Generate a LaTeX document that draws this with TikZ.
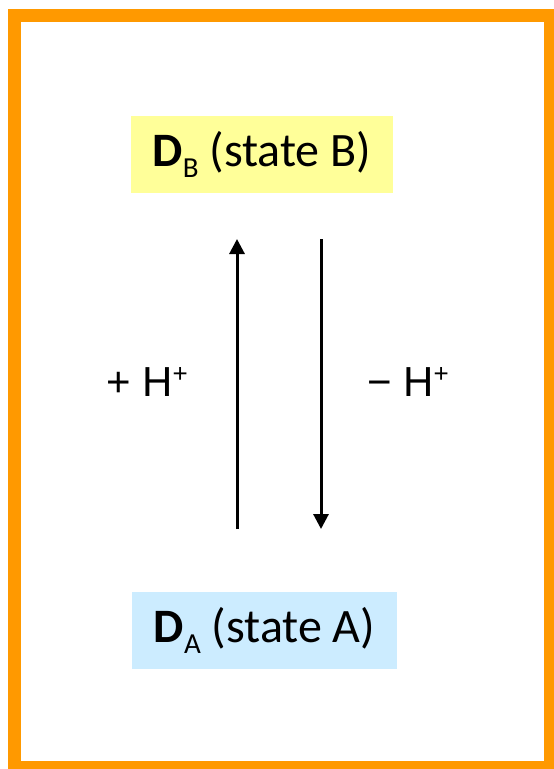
\documentclass[tikz,border=0pt]{standalone}
\usepackage{fontspec}
\setmainfont{Carlito}
\newfontfamily\arialfont{Liberation Sans}
\usetikzlibrary{arrows.meta,positioning}
\tikzset{%
  statebox/.style={rectangle,inner sep=0pt,minimum height=77pt,font=\fontsize{48}{54}\selectfont},
  pmlabel/.style={font=\arialfont\fontsize{42}{48}\selectfont,inner sep=0pt},
  hflow/.style={line width=3pt,-{Triangle[length=15pt,width=15pt]}}
}
\newcommand{\subsc}[1]{\raisebox{-11pt}{\fontsize{29}{32}\selectfont #1}}
\newcommand{\supsc}[1]{\raisebox{14pt}{\fontsize{26}{30}\selectfont #1}}

\begin{document}
\begin{tikzpicture}[x=1pt,y=-1pt]
% ---- colors ----
\definecolor{frameorange}{HTML}{FF9900}  % outer frame
\definecolor{stateyellow}{HTML}{FFFF99}  % state B box
\definecolor{stateblue}{HTML}{CCECFF}    % state A box

\useasboundingbox (0,0) rectangle (554,769);

% ---- frame ----
\fill[white] (14.5,15) rectangle (550.5,767.5);
\draw[frameorange,line width=13pt] (14.5,15) rectangle (550.5,767.5);

% ---- states ----
\node[statebox,fill=stateyellow,minimum width=262pt] (dB) at (262,154.5)
  {\textbf{D}\subsc{B} (state B)};
\node[statebox,fill=stateblue,minimum width=265pt] (dA) at (264.5,630.5)
  {\textbf{D}\subsc{A} (state A)};

% ---- arrow ends ----
\coordinate (upS)   at (237,529);
\coordinate (upE)   at (237,239);
\coordinate (downS) at (321,239);
\coordinate (downE) at (321,529);

\draw[hflow] (upS) -- (upE);
\draw[hflow] (downS) -- (downE);

% ---- labels ----
\node[pmlabel,anchor=base west] (plus)  at (106,396) {+ H\supsc{+}};
\node[pmlabel,anchor=base west] (minus) at (367,396) {\textminus{} H\supsc{+}};
\end{tikzpicture}
\end{document}
